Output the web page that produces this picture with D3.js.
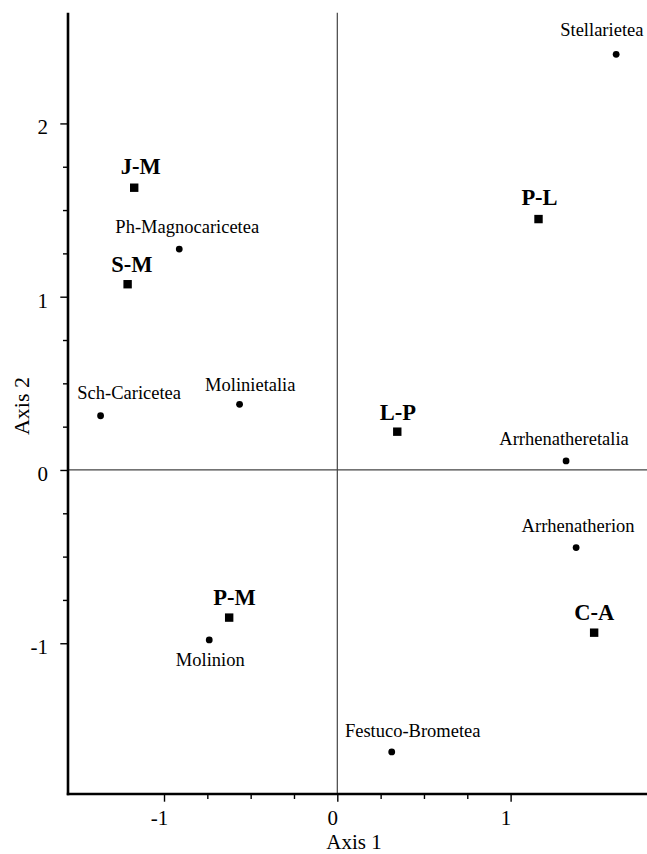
<!DOCTYPE html>
<html>
<head>
<meta charset="utf-8">
<script src="https://cdn.jsdelivr.net/npm/d3@7"></script>
<style>
  html, body { margin: 0; padding: 0; background: #fff; }
  svg { display: block; font-family: "Liberation Serif", "Times New Roman", serif; }
</style>
</head>
<body>
<div id="chart"></div>
<script>
    // -------------------------------
    // Data (ordination scores)
    // -------------------------------
    const groupNames = ['J-M', 'S-M', 'P-L', 'L-P', 'C-A', 'P-M'];
    const groupAxis1 = [-1.172, -1.210, 1.161, 0.346, 1.482, -0.624];
    const groupAxis2 = [1.629, 1.072, 1.448, 0.221, -0.939, -0.852];

    const unitNames = ['Stellarietea', 'Ph-Magnocaricetea', 'Sch-Caricetea', 'Molinietalia',
                       'Arrhenatheretalia', 'Arrhenatherion', 'Molinion', 'Festuco-Brometea'];
    const unitAxis1 = [1.609, -0.912, -1.366, -0.564, 1.320, 1.378, -0.739, 0.314];
    const unitAxis2 = [2.399, 1.275, 0.313, 0.379, 0.052, -0.448, -0.981, -1.627];

    const xMajorTicks = [-1, 0, 1];
    const yMajorTicks = [-1, 0, 1, 2];
    const xTitle = 'Axis 1';
    const yTitle = 'Axis 2';

    // label placement relative to the marker: [dx, dy]
    const labelOffset = {
      'J-M': [6.5, -13.7], 'S-M': [4.3, -12.6], 'P-L': [1, -14], 'L-P': [0.7, -11.7],
      'C-A': [0, -12.7], 'P-M': [5.4, -12.7],
      'Stellarietea': [-14.3, -18.3], 'Ph-Magnocaricetea': [8, -16], 'Sch-Caricetea': [28.6, -16.7],
      'Molinietalia': [10.7, -13.6], 'Arrhenatheretalia': [-2, -16], 'Arrhenatherion': [2, -16],
      'Molinion': [1, 26], 'Festuco-Brometea': [21, -14.7]
    };

    const groups = groupNames.map((n, i) => ({ name: n, x: groupAxis1[i], y: groupAxis2[i] }));
    const units = unitNames.map((n, i) => ({ name: n, x: unitAxis1[i], y: unitAxis2[i] }));

    // -------------------------------
    // Layout
    // -------------------------------
    const W = 647, H = 854;
    const plotLeft = 68, plotRight = 647, plotTop = 12.7, plotBottom = 794;

    const svg = d3.select('#chart').append('svg')
      .attr('width', W)
      .attr('height', H);

    const x = d3.scaleLinear().domain([-1.554, 1.787]).range([plotLeft, plotRight]);
    const y = d3.scaleLinear().domain([-1.870, 2.639]).range([plotBottom, plotTop]);

    const fmt = d => d < 0 ? '-' + Math.abs(d) : String(d);
    const minor = (lo, hi) => d3.range(lo * 4, hi * 4 + 1).map(v => v / 4).filter(v => v % 1 !== 0);

    // zero lines
    svg.append('line')
      .attr('x1', x(0)).attr('x2', x(0)).attr('y1', plotTop).attr('y2', plotBottom)
      .attr('stroke', '#444').attr('stroke-width', 1.2);
    svg.append('line')
      .attr('x1', plotLeft).attr('x2', plotRight).attr('y1', y(0)).attr('y2', y(0))
      .attr('stroke', '#444').attr('stroke-width', 1.2);

    // --------------------
    // Axes
    // --------------------
    const yAxisG = svg.append('g').attr('transform', `translate(${plotLeft},0)`);
    yAxisG.append('g')
      .call(d3.axisLeft(y).tickValues(minor(-1, 2)).tickSize(5).tickFormat(''));
    yAxisG.append('g')
      .call(d3.axisLeft(y).tickValues(yMajorTicks).tickSize(7.7).tickPadding(12.3).tickFormat(fmt))
      .selectAll('text').attr('dy', '0.5em');

    const xAxisG = svg.append('g').attr('transform', `translate(0,${plotBottom})`);
    xAxisG.append('g')
      .call(d3.axisBottom(x).tickValues(minor(-1, 1)).tickSize(5).tickFormat(''));
    xAxisG.append('g')
      .call(d3.axisBottom(x).tickValues(xMajorTicks).tickSize(7.7).tickPadding(8).tickFormat(fmt))
      .selectAll('text').attr('x', -5);

    svg.selectAll('.domain').remove();
    svg.selectAll('.tick line').attr('stroke', '#000').attr('stroke-width', 1.4);
    svg.selectAll('.tick text')
      .attr('fill', '#000')
      .style('font-family', '"Liberation Serif", serif')
      .style('font-size', '21px');

    // main axis lines
    svg.append('line')
      .attr('x1', plotLeft).attr('x2', plotLeft).attr('y1', plotTop).attr('y2', plotBottom + 1.2)
      .attr('stroke', '#000').attr('stroke-width', 2.6);
    svg.append('line')
      .attr('x1', plotLeft - 1.2).attr('x2', plotRight).attr('y1', plotBottom).attr('y2', plotBottom)
      .attr('stroke', '#000').attr('stroke-width', 2.6);

    // axis titles
    svg.append('text')
      .attr('x', 354).attr('y', 849.3)
      .attr('text-anchor', 'middle')
      .style('font-size', '21px')
      .text(xTitle);
    svg.append('text')
      .attr('transform', `translate(28.5,406) rotate(-90)`)
      .attr('text-anchor', 'middle')
      .style('font-size', '22px')
      .text(yTitle);

    // --------------------
    // Points
    // --------------------
    const sq = 8.4;
    svg.selectAll('.grp')
      .data(groups)
      .enter().append('rect')
        .attr('class', 'grp')
        .attr('x', d => x(d.x) - sq / 2)
        .attr('y', d => y(d.y) - sq / 2)
        .attr('width', sq).attr('height', sq)
        .attr('fill', '#000');

    svg.selectAll('.grp-label')
      .data(groups)
      .enter().append('text')
        .attr('class', 'grp-label')
        .attr('x', d => x(d.x) + labelOffset[d.name][0])
        .attr('y', d => y(d.y) + labelOffset[d.name][1])
        .attr('text-anchor', 'middle')
        .style('font-size', '22.5px')
        .style('font-weight', 'bold')
        .text(d => d.name);

    svg.selectAll('.unit')
      .data(units)
      .enter().append('circle')
        .attr('class', 'unit')
        .attr('cx', d => x(d.x))
        .attr('cy', d => y(d.y))
        .attr('r', 3.4)
        .attr('fill', '#000');

    svg.selectAll('.unit-label')
      .data(units)
      .enter().append('text')
        .attr('class', 'unit-label')
        .attr('x', d => x(d.x) + labelOffset[d.name][0])
        .attr('y', d => y(d.y) + labelOffset[d.name][1])
        .attr('text-anchor', 'middle')
        .style('font-size', '18.5px')
        .text(d => d.name);
</script>
</body>
</html>
